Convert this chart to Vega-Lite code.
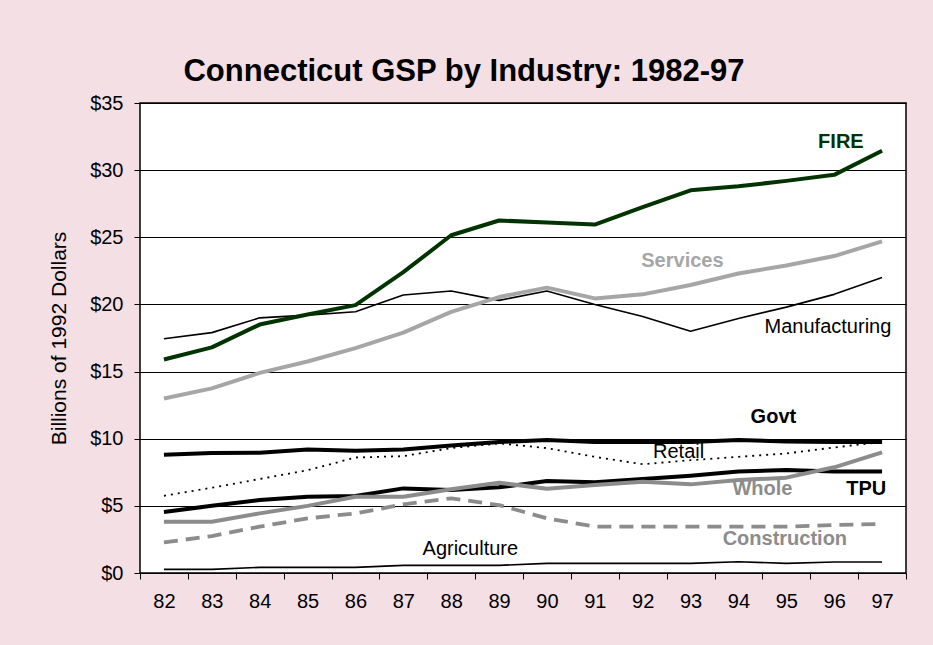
{
  "$schema": "https://vega.github.io/schema/vega-lite/v6.json",
  "width": 766,
  "height": 470,
  "autosize": "none",
  "padding": {"left": 140, "top": 103, "right": 27, "bottom": 72},
  "background": "#F3DFE4",
  "title": {
    "text": "Connecticut GSP by Industry: 1982-97",
    "font": "Liberation Sans",
    "fontSize": 31,
    "fontWeight": "bold",
    "color": "#000000",
    "anchor": "middle",
    "dx": -59,
    "offset": 5
  },
  "config": {
    "view": {"stroke": "#000000", "strokeWidth": 1.5, "fill": "#FFFFFF"},
    "font": "Liberation Sans"
  },
  "datasets": {
    "gsp": [
      {"year": 82, "series": "FIRE", "value": 15.9},
      {"year": 83, "series": "FIRE", "value": 16.8},
      {"year": 84, "series": "FIRE", "value": 18.5},
      {"year": 85, "series": "FIRE", "value": 19.25},
      {"year": 86, "series": "FIRE", "value": 19.95},
      {"year": 87, "series": "FIRE", "value": 22.4},
      {"year": 88, "series": "FIRE", "value": 25.15},
      {"year": 89, "series": "FIRE", "value": 26.25},
      {"year": 90, "series": "FIRE", "value": 26.1},
      {"year": 91, "series": "FIRE", "value": 25.95},
      {"year": 92, "series": "FIRE", "value": 27.25},
      {"year": 93, "series": "FIRE", "value": 28.5},
      {"year": 94, "series": "FIRE", "value": 28.8},
      {"year": 95, "series": "FIRE", "value": 29.2},
      {"year": 96, "series": "FIRE", "value": 29.65},
      {"year": 97, "series": "FIRE", "value": 31.45},
      {"year": 82, "series": "Manufacturing", "value": 17.45},
      {"year": 83, "series": "Manufacturing", "value": 17.9},
      {"year": 84, "series": "Manufacturing", "value": 19.0},
      {"year": 85, "series": "Manufacturing", "value": 19.2},
      {"year": 86, "series": "Manufacturing", "value": 19.45},
      {"year": 87, "series": "Manufacturing", "value": 20.7},
      {"year": 88, "series": "Manufacturing", "value": 21.0},
      {"year": 89, "series": "Manufacturing", "value": 20.3},
      {"year": 90, "series": "Manufacturing", "value": 21.0},
      {"year": 91, "series": "Manufacturing", "value": 20.0},
      {"year": 92, "series": "Manufacturing", "value": 19.1},
      {"year": 93, "series": "Manufacturing", "value": 18.0},
      {"year": 94, "series": "Manufacturing", "value": 18.95},
      {"year": 95, "series": "Manufacturing", "value": 19.8},
      {"year": 96, "series": "Manufacturing", "value": 20.75},
      {"year": 97, "series": "Manufacturing", "value": 22.0},
      {"year": 82, "series": "Services", "value": 13.0},
      {"year": 83, "series": "Services", "value": 13.75},
      {"year": 84, "series": "Services", "value": 14.9},
      {"year": 85, "series": "Services", "value": 15.75},
      {"year": 86, "series": "Services", "value": 16.75},
      {"year": 87, "series": "Services", "value": 17.9},
      {"year": 88, "series": "Services", "value": 19.45},
      {"year": 89, "series": "Services", "value": 20.55},
      {"year": 90, "series": "Services", "value": 21.25},
      {"year": 91, "series": "Services", "value": 20.45},
      {"year": 92, "series": "Services", "value": 20.75},
      {"year": 93, "series": "Services", "value": 21.45},
      {"year": 94, "series": "Services", "value": 22.3},
      {"year": 95, "series": "Services", "value": 22.9},
      {"year": 96, "series": "Services", "value": 23.6},
      {"year": 97, "series": "Services", "value": 24.7},
      {"year": 82, "series": "Govt", "value": 8.8},
      {"year": 83, "series": "Govt", "value": 8.93},
      {"year": 84, "series": "Govt", "value": 8.96},
      {"year": 85, "series": "Govt", "value": 9.2},
      {"year": 86, "series": "Govt", "value": 9.1},
      {"year": 87, "series": "Govt", "value": 9.2},
      {"year": 88, "series": "Govt", "value": 9.5},
      {"year": 89, "series": "Govt", "value": 9.75},
      {"year": 90, "series": "Govt", "value": 9.9},
      {"year": 91, "series": "Govt", "value": 9.75},
      {"year": 92, "series": "Govt", "value": 9.75},
      {"year": 93, "series": "Govt", "value": 9.75},
      {"year": 94, "series": "Govt", "value": 9.9},
      {"year": 95, "series": "Govt", "value": 9.8},
      {"year": 96, "series": "Govt", "value": 9.75},
      {"year": 97, "series": "Govt", "value": 9.75},
      {"year": 82, "series": "Retail", "value": 5.75},
      {"year": 83, "series": "Retail", "value": 6.35},
      {"year": 84, "series": "Retail", "value": 7.0},
      {"year": 85, "series": "Retail", "value": 7.65},
      {"year": 86, "series": "Retail", "value": 8.6},
      {"year": 87, "series": "Retail", "value": 8.7},
      {"year": 88, "series": "Retail", "value": 9.3},
      {"year": 89, "series": "Retail", "value": 9.65},
      {"year": 90, "series": "Retail", "value": 9.3},
      {"year": 91, "series": "Retail", "value": 8.65},
      {"year": 92, "series": "Retail", "value": 8.1},
      {"year": 93, "series": "Retail", "value": 8.4},
      {"year": 94, "series": "Retail", "value": 8.65},
      {"year": 95, "series": "Retail", "value": 8.9},
      {"year": 96, "series": "Retail", "value": 9.35},
      {"year": 97, "series": "Retail", "value": 9.75},
      {"year": 82, "series": "TPU", "value": 4.55},
      {"year": 83, "series": "TPU", "value": 5.0},
      {"year": 84, "series": "TPU", "value": 5.43},
      {"year": 85, "series": "TPU", "value": 5.68},
      {"year": 86, "series": "TPU", "value": 5.73},
      {"year": 87, "series": "TPU", "value": 6.3},
      {"year": 88, "series": "TPU", "value": 6.18},
      {"year": 89, "series": "TPU", "value": 6.38},
      {"year": 90, "series": "TPU", "value": 6.85},
      {"year": 91, "series": "TPU", "value": 6.75},
      {"year": 92, "series": "TPU", "value": 7.0},
      {"year": 93, "series": "TPU", "value": 7.25},
      {"year": 94, "series": "TPU", "value": 7.55},
      {"year": 95, "series": "TPU", "value": 7.67},
      {"year": 96, "series": "TPU", "value": 7.55},
      {"year": 97, "series": "TPU", "value": 7.55},
      {"year": 82, "series": "Whole", "value": 3.82},
      {"year": 83, "series": "Whole", "value": 3.82},
      {"year": 84, "series": "Whole", "value": 4.44},
      {"year": 85, "series": "Whole", "value": 5.0},
      {"year": 86, "series": "Whole", "value": 5.68},
      {"year": 87, "series": "Whole", "value": 5.68},
      {"year": 88, "series": "Whole", "value": 6.23},
      {"year": 89, "series": "Whole", "value": 6.72},
      {"year": 90, "series": "Whole", "value": 6.28},
      {"year": 91, "series": "Whole", "value": 6.55},
      {"year": 92, "series": "Whole", "value": 6.8},
      {"year": 93, "series": "Whole", "value": 6.6},
      {"year": 94, "series": "Whole", "value": 6.92},
      {"year": 95, "series": "Whole", "value": 7.1},
      {"year": 96, "series": "Whole", "value": 7.87},
      {"year": 97, "series": "Whole", "value": 8.98},
      {"year": 82, "series": "Construction", "value": 2.28},
      {"year": 83, "series": "Construction", "value": 2.75},
      {"year": 84, "series": "Construction", "value": 3.45},
      {"year": 85, "series": "Construction", "value": 4.07},
      {"year": 86, "series": "Construction", "value": 4.44},
      {"year": 87, "series": "Construction", "value": 5.11},
      {"year": 88, "series": "Construction", "value": 5.56},
      {"year": 89, "series": "Construction", "value": 5.06},
      {"year": 90, "series": "Construction", "value": 4.07},
      {"year": 91, "series": "Construction", "value": 3.45},
      {"year": 92, "series": "Construction", "value": 3.45},
      {"year": 93, "series": "Construction", "value": 3.45},
      {"year": 94, "series": "Construction", "value": 3.45},
      {"year": 95, "series": "Construction", "value": 3.45},
      {"year": 96, "series": "Construction", "value": 3.57},
      {"year": 97, "series": "Construction", "value": 3.65},
      {"year": 82, "series": "Agriculture", "value": 0.27},
      {"year": 83, "series": "Agriculture", "value": 0.27},
      {"year": 84, "series": "Agriculture", "value": 0.42},
      {"year": 85, "series": "Agriculture", "value": 0.42},
      {"year": 86, "series": "Agriculture", "value": 0.42},
      {"year": 87, "series": "Agriculture", "value": 0.57},
      {"year": 88, "series": "Agriculture", "value": 0.57},
      {"year": 89, "series": "Agriculture", "value": 0.57},
      {"year": 90, "series": "Agriculture", "value": 0.72},
      {"year": 91, "series": "Agriculture", "value": 0.72},
      {"year": 92, "series": "Agriculture", "value": 0.72},
      {"year": 93, "series": "Agriculture", "value": 0.72},
      {"year": 94, "series": "Agriculture", "value": 0.84},
      {"year": 95, "series": "Agriculture", "value": 0.72},
      {"year": 96, "series": "Agriculture", "value": 0.82},
      {"year": 97, "series": "Agriculture", "value": 0.82}
    ],
    "labels": [
      {"label": "FIRE", "year": 96.14, "value": 32.1},
      {"label": "Services", "year": 92.83, "value": 23.25},
      {"label": "Manufacturing", "year": 95.87, "value": 18.3},
      {"label": "Govt", "year": 94.73, "value": 11.64},
      {"label": "Retail", "year": 92.75, "value": 9.03},
      {"label": "Whole", "year": 94.5, "value": 6.25},
      {"label": "TPU", "year": 96.67, "value": 6.25},
      {"label": "Construction", "year": 94.97, "value": 2.56},
      {"label": "Agriculture", "year": 88.4, "value": 1.76}
    ]
  },
  "resolve": {"axis": {"x": "independent"}},
  "layer": [
    {
      "data": {"name": "gsp"},
      "transform": [{"filter": "datum.series == 'Agriculture' || datum.series == 'Manufacturing'"}],
      "mark": {"type": "line", "strokeCap": "butt", "strokeJoin": "round", "strokeWidth": 1.6, "color": "#000000"},
      "encoding": {
        "x": {
          "field": "year", "type": "quantitative",
          "scale": {"domain": [81.5, 97.5], "nice": false, "zero": false},
          "axis": {
            "orient": "bottom", "title": null, "values": [82,83,84,85,86,87,88,89,90,91,92,93,94,95,96,97],
            "format": "d", "tickSize": 0, "labelPadding": 18, "domain": false, "grid": false,
            "labelFont": "Liberation Sans", "labelFontSize": 20, "labelColor": "#000000"
          }
        },
        "y": {
          "field": "value", "type": "quantitative",
          "scale": {"domain": [0, 35], "nice": false},
          "axis": {
            "values": [0,5,10,15,20,25,30,35],
            "labelExpr": "'$' + datum.value",
            "grid": true, "gridColor": "#000000", "gridWidth": 1, "gridOpacity": 1,
            "domain": false, "tickSize": 6, "tickColor": "#000000", "tickWidth": 1,
            "labelPadding": 11, "labelFont": "Liberation Sans", "labelFontSize": 20, "labelColor": "#000000",
            "title": "Billions of 1992 Dollars", "titleFont": "Liberation Sans", "titleFontSize": 21,
            "titleFontWeight": "normal", "titleColor": "#000000", "titlePadding": 20
          }
        },
        "detail": {"field": "series", "type": "nominal"}
      }
    },
    {
      "data": {"name": "gsp"},
      "transform": [{"filter": "datum.series == 'Retail'"}],
      "mark": {"type": "line", "strokeCap": "butt", "strokeJoin": "round", "strokeWidth": 1.8, "color": "#000000", "strokeDash": [2, 5]},
      "encoding": {
        "x": {"field": "year", "type": "quantitative", "axis": null},
        "y": {"field": "value", "type": "quantitative"}
      }
    },
    {
      "data": {"name": "gsp"},
      "transform": [{"filter": "datum.series == 'Construction'"}],
      "mark": {"type": "line", "strokeCap": "butt", "strokeJoin": "round", "strokeWidth": 3.8, "color": "#8C8C8C", "strokeDash": [14, 8]},
      "encoding": {
        "x": {"field": "year", "type": "quantitative", "axis": null},
        "y": {"field": "value", "type": "quantitative"}
      }
    },
    {
      "data": {"name": "gsp"},
      "transform": [{"filter": "datum.series == 'Whole' || datum.series == 'TPU' || datum.series == 'Govt' || datum.series == 'Services' || datum.series == 'FIRE'"}],
      "mark": {"type": "line", "strokeCap": "butt", "strokeJoin": "round", "strokeWidth": 4},
      "encoding": {
        "x": {
          "field": "year", "type": "quantitative",
          "scale": {"domain": [81.5, 97.5], "nice": false, "zero": false},
          "axis": {
            "orient": "bottom", "title": null,
            "values": [81.5,82.5,83.5,84.5,85.5,86.5,87.5,88.5,89.5,90.5,91.5,92.5,93.5,94.5,95.5,96.5,97.5],
            "labels": false, "tickSize": 6, "tickColor": "#000000", "tickWidth": 1, "domain": false, "grid": false
          }
        },
        "y": {"field": "value", "type": "quantitative"},
        "color": {
          "field": "series", "type": "nominal", "legend": null,
          "scale": {
            "domain": ["Whole", "TPU", "Govt", "Services", "FIRE"],
            "range": ["#8C8C8C", "#000000", "#000000", "#A6A6A6", "#003300"]
          }
        }
      }
    },
    {
      "data": {"name": "labels"},
      "transform": [{"filter": "datum.label == 'FIRE' || datum.label == 'Govt' || datum.label == 'TPU' || datum.label == 'Services' || datum.label == 'Whole' || datum.label == 'Construction'"}],
      "mark": {"type": "text", "font": "Liberation Sans", "fontSize": 20, "fontWeight": "bold", "align": "center", "baseline": "middle"},
      "encoding": {
        "x": {"field": "year", "type": "quantitative", "axis": null},
        "y": {"field": "value", "type": "quantitative"},
        "text": {"field": "label"},
        "color": {
          "field": "label", "type": "nominal", "legend": null,
          "scale": {
            "domain": ["FIRE", "Govt", "TPU", "Services", "Whole", "Construction"],
            "range": ["#000000", "#000000", "#000000", "#999999", "#8C8C8C", "#8C8C8C"]
          }
        }
      }
    },
    {
      "data": {"name": "labels"},
      "transform": [{"filter": "datum.label == 'Manufacturing' || datum.label == 'Retail' || datum.label == 'Agriculture'"}],
      "mark": {"type": "text", "font": "Liberation Sans", "fontSize": 20, "fontWeight": "normal", "align": "center", "baseline": "middle", "color": "#000000"},
      "encoding": {
        "x": {"field": "year", "type": "quantitative", "axis": null},
        "y": {"field": "value", "type": "quantitative"},
        "text": {"field": "label"}
      }
    }
  ]
}
